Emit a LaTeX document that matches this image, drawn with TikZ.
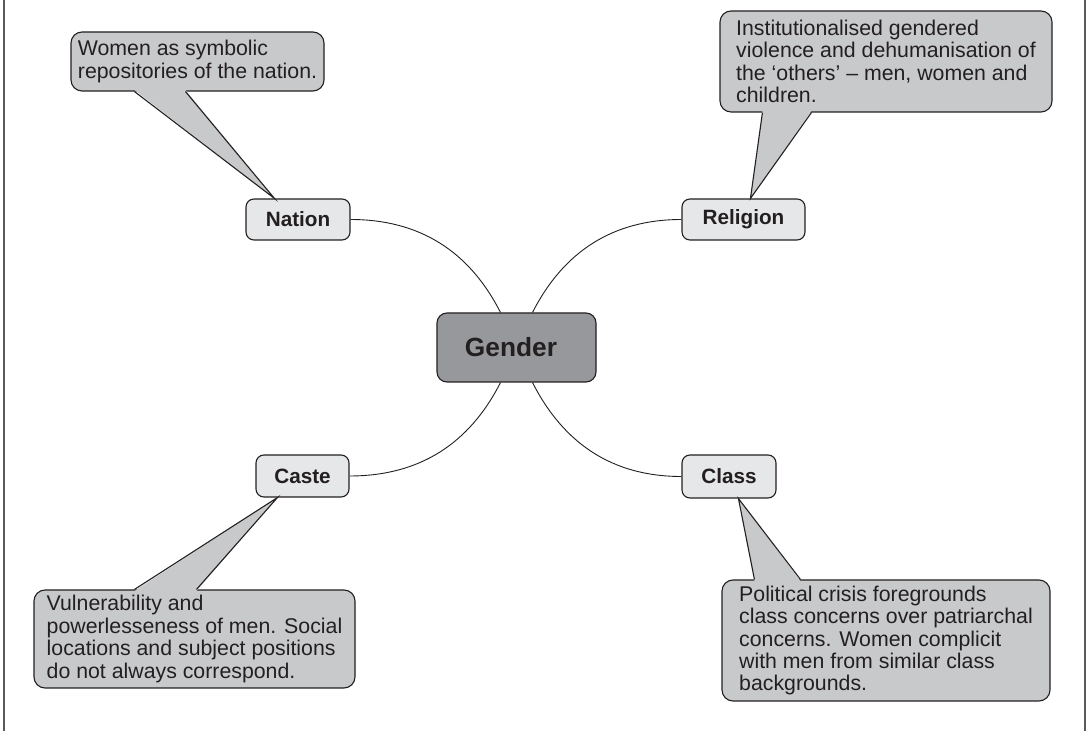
\documentclass[tikz,border=0pt]{standalone}
\usepackage{fontspec}
\setmainfont{Liberation Sans}
\usetikzlibrary{calc}
\definecolor{ink}{HTML}{231F20}
\definecolor{notefill}{HTML}{C8C9CB}
\definecolor{topicfill}{HTML}{E6E7E8}
\definecolor{corefill}{HTML}{97989B}
\definecolor{framegray}{HTML}{5A5A5A}
\begin{document}
\begin{tikzpicture}[x=1pt,y=1pt,
  note/.style={draw=ink, fill=notefill, line width=1.1pt, rounded corners=11pt,
    inner sep=0pt, align=left, text=ink, font=\fontsize{21.3}{22.4}\selectfont},
  topic/.style={draw=ink, fill=topicfill, line width=1.1pt, rounded corners=8pt,
    inner sep=0pt, text=ink, font=\fontsize{20.7}{24}\selectfont\bfseries},
  core/.style={draw=ink, fill=corefill, line width=1.1pt, rounded corners=10pt,
    inner sep=0pt, text=ink, font=\fontsize{26.3}{30}\selectfont\bfseries},
  link/.style={draw=ink, line width=0.9pt},
  pointerline/.style={draw=ink, line width=1.1pt, line join=miter},
  framerule/.style={draw=framegray, line width=1.6pt}
]
\useasboundingbox (0,0) rectangle (1087,731);
\draw[framerule] (4,0) -- (4,731);
\draw[framerule] (1085,0) -- (1085,731);

% callout notes
\node[note, minimum width=253pt, minimum height=59pt] (nationnote) at (197.5,669.5)
  {Women as symbolic\\repositories of the nation.};
\node[note, minimum width=332pt, minimum height=101pt] (religionnote) at (886,669.5)
  {Institutionalised gendered\\violence and dehumanisation of\\the `others' -- men, women and\\children.};
\node[note, minimum width=321pt, minimum height=98pt] (castenote) at (194.5,92)
  {Vulnerability and\\powerlesseness of men. Social\\locations and subject positions\\do not always correspond.};
\node[note, minimum width=328pt, minimum height=121pt] (classnote) at (886,90.5)
  {Political crisis foregrounds\\class concerns over patriarchal\\concerns. Women complicit\\with men from similar class\\backgrounds.};

% topic nodes
\node[topic, minimum width=104pt, minimum height=41pt] (nation) at (298,511.5) {Nation};
\node[topic, minimum width=123pt, minimum height=41pt] (religion) at (743.5,511.5) {Religion};
\node[topic, minimum width=93pt, minimum height=42pt] (caste) at (302.5,255) {Caste};
\node[topic, minimum width=94pt, minimum height=43pt] (class) at (729,254.5) {Class};
\node[core, minimum width=159pt, minimum height=69pt] (gender) at (516.5,383.5) {\hspace*{-11pt}Gender};

% connectors to the central node
\coordinate (gnl) at ($(gender.north)+(-16,0)$);
\coordinate (gnr) at ($(gender.north)+(16,0)$);
\coordinate (gsl) at ($(gender.south)+(-16,0)$);
\coordinate (gsr) at ($(gender.south)+(16,0)$);
\draw[link] (nation.east) to[out=0,in=117] (gnl);
\draw[link] (religion.west) to[out=180,in=63] (gnr);
\draw[link] (caste.east) to[out=0,in=243] (gsl);
\draw[link] (class.west) to[out=180,in=297] (gsr);

% callout pointers
\coordinate (nationtip) at ($(nation.north west)+(29,0)$);
\coordinate (nb1) at ($(nationnote.south west)+(64,0)$);
\coordinate (nb2) at ($(nationnote.south west)+(115,0)$);
\fill[notefill] ($(nb1)+(0,1.6)$) -- (nationtip) -- ($(nb2)+(0,1.6)$) -- cycle;
\draw[pointerline] (nb1) -- (nationtip) -- (nb2);

\coordinate (religiontip) at ($(religion.north west)+(69,0)$);
\coordinate (rb1) at ($(religionnote.south west)+(43,0)$);
\coordinate (rb2) at ($(religionnote.south west)+(92,0)$);
\fill[notefill] ($(rb1)+(0,1.6)$) -- (religiontip) -- ($(rb2)+(0,1.6)$) -- cycle;
\draw[pointerline] (rb1) -- (religiontip) -- (rb2);

\coordinate (castetip) at ($(caste.south west)+(22,0)$);
\coordinate (cb1) at ($(castenote.north west)+(101,0)$);
\coordinate (cb2) at ($(castenote.north west)+(163,0)$);
\fill[notefill] ($(cb1)+(0,-1.6)$) -- (castetip) -- ($(cb2)+(0,-1.6)$) -- cycle;
\draw[pointerline] (cb1) -- (castetip) -- (cb2);

\coordinate (classtip) at ($(class.south west)+(57,0)$);
\coordinate (kb1) at ($(classnote.north west)+(33,0)$);
\coordinate (kb2) at ($(classnote.north west)+(79,0)$);
\fill[notefill] ($(kb1)+(0,-1.6)$) -- (classtip) -- ($(kb2)+(0,-1.6)$) -- cycle;
\draw[pointerline] (kb1) -- (classtip) -- (kb2);
\end{tikzpicture}
\end{document}
